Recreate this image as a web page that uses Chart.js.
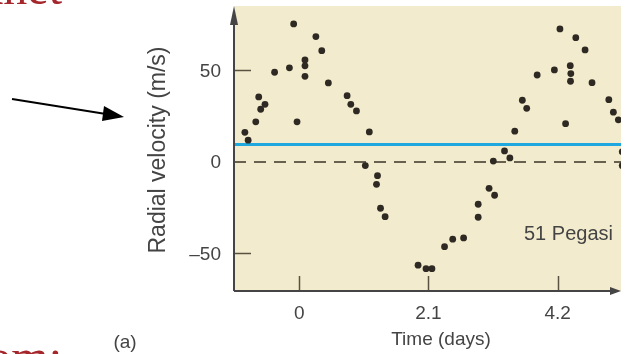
<!DOCTYPE html>
<html lang="en">
<head>
  <meta charset="UTF-8" />
  <title>51 Pegasi radial velocity</title>
  <script src="https://cdn.jsdelivr.net/npm/chart.js"></script>
  <style>
    body { margin: 0; background: #fff; }
    canvas { display: block; }
  </style>
</head>
<body>
  <canvas id="rvChart" width="625" height="354"></canvas>

  <script>
    // data
    const timeDays = [
      -0.885, -0.832, -0.708, -0.660, -0.628, -0.558, -0.402, -0.161, -0.092, -0.037,
      0.092, 0.092, 0.092, 0.269, 0.365, 0.472, 0.777, 0.837, 0.929, 1.138,
      1.073, 1.271, 1.255, 1.320, 1.395, 1.931, 2.060, 2.156, 2.361, 2.494,
      2.671, 2.908, 2.908, 3.085, 3.175, 3.154, 3.336, 3.423, 3.503, 3.626,
      3.697, 3.867, 4.147, 4.237, 4.329, 4.405, 4.414, 4.409, 4.495, 4.646,
      4.759, 5.032, 5.106, 5.187, 5.25, 5.25
    ];
    const velocity = [
      16.2, 11.9, 21.9, 35.5, 28.8, 31.5, 49.0, 51.4, 75.4, 21.9,
      55.7, 52.5, 46.8, 68.5, 60.8, 43.2, 36.2, 31.5, 27.9, 16.4,
      -2.0, -7.5, -12.2, -25.3, -29.9, -56.4, -58.3, -58.3, -46.3, -42.2,
      -41.5, -23.1, -30.2, -14.4, -18.2, 0.5, 6.0, 2.2, 16.8, 33.7,
      29.3, 47.5, 50.3, 72.7, 20.9, 52.6, 48.3, 44.1, 67.9, 61.2,
      43.3, 34.0, 27.2, 23.0, 5.6, -2.0
    ];
    const meanVelocity = 9.5;
    const xTicks = [0, 2.1, 4.2];
    const yTicks = [50, 0, -50];

    const xMin = -1.062, xMax = 5.23;
    const yMin = -70.5, yMax = 85.2;

    const FONT = '"Liberation Sans", Arial, sans-serif';

    const decorations = {
      id: 'decorations',
      beforeDraw(chart) {
        const { ctx, chartArea: a } = chart;
        ctx.save();
        ctx.fillStyle = '#f2ebcd';
        ctx.fillRect(a.left, a.top, a.right - a.left, a.bottom - a.top);
        ctx.restore();
      },
      afterDraw(chart) {
        const { ctx, chartArea: a } = chart;
        const xs = chart.scales.x, ys = chart.scales.y;
        ctx.save();

        // tick marks
        ctx.strokeStyle = '#5a5142';
        ctx.lineWidth = 1.5;
        yTicks.forEach(v => {
          if (v === 0) return;
          const y = Math.round(ys.getPixelForValue(v)) + 0.5;
          ctx.beginPath();
          ctx.moveTo(a.left, y);
          ctx.lineTo(a.left + 17, y);
          ctx.stroke();
        });
        xTicks.forEach(v => {
          const x = Math.round(xs.getPixelForValue(v)) + 0.5;
          ctx.beginPath();
          ctx.moveTo(x, a.bottom);
          ctx.lineTo(x, a.bottom - 15);
          ctx.stroke();
        });

        // axes with arrow heads
        ctx.strokeStyle = '#454545';
        ctx.fillStyle = '#454545';
        ctx.lineWidth = 2;
        ctx.beginPath();
        ctx.moveTo(a.left, a.bottom);
        ctx.lineTo(a.left, a.top + 15);
        ctx.moveTo(a.left, a.bottom);
        ctx.lineTo(a.right - 8, a.bottom);
        ctx.stroke();
        ctx.beginPath();
        ctx.moveTo(a.left, a.top);
        ctx.lineTo(a.left - 4, a.top + 19);
        ctx.lineTo(a.left + 4, a.top + 19);
        ctx.closePath();
        ctx.fill();
        ctx.beginPath();
        ctx.moveTo(a.right, a.bottom);
        ctx.lineTo(a.right - 11, a.bottom - 4);
        ctx.lineTo(a.right - 11, a.bottom + 4);
        ctx.closePath();
        ctx.fill();

        // tick labels
        ctx.fillStyle = '#444';
        ctx.font = '19px ' + FONT;
        ctx.textBaseline = 'middle';
        ctx.textAlign = 'right';
        yTicks.forEach(v => {
          const label = v < 0 ? '\u2013' + Math.abs(v) : String(v);
          ctx.fillText(label, 221, ys.getPixelForValue(v) + 1);
        });
        ctx.textAlign = 'center';
        xTicks.forEach(v => {
          ctx.fillText(String(v), xs.getPixelForValue(v), 314);
        });

        // axis titles and labels
        ctx.fillText('Time (days)', 441, 340);
        ctx.fillText('(a)', 125, 343);
        ctx.textAlign = 'left';
        ctx.font = '20px ' + FONT;
        ctx.fillText('51 Pegasi', 524, 234);
        ctx.save();
        ctx.translate(159, 150);
        ctx.rotate(-Math.PI / 2);
        ctx.textAlign = 'center';
        ctx.font = '23px ' + FONT;
        ctx.fillText('Radial velocity (m/s)', 0, 0);
        ctx.restore();

        // slide pointer arrow
        ctx.strokeStyle = '#000';
        ctx.fillStyle = '#000';
        ctx.lineWidth = 2;
        ctx.beginPath();
        ctx.moveTo(12, 99);
        ctx.lineTo(106, 114);
        ctx.stroke();
        ctx.beginPath();
        ctx.moveTo(124, 117);
        ctx.lineTo(104, 106);
        ctx.lineTo(102, 121);
        ctx.closePath();
        ctx.fill();

        // cropped slide text
        ctx.fillStyle = '#a5262b';
        ctx.font = '48px "Liberation Serif", serif';
        ctx.textAlign = 'right';
        ctx.textBaseline = 'alphabetic';
        ctx.fillText('Planet', 62, 4);
        ctx.fillText('from:', 62, 373);

        ctx.restore();
      }
    };

    new Chart(document.getElementById('rvChart'), {
      type: 'scatter',
      data: {
        datasets: [
          {
            label: '51 Pegasi',
            data: timeDays.map((t, i) => ({ x: t, y: velocity[i] })),
            backgroundColor: '#2e2a23',
            borderWidth: 0,
            pointRadius: 3.4,
            order: 0
          },
          {
            type: 'line',
            label: 'mean',
            data: [{ x: xMin, y: meanVelocity }, { x: xMax, y: meanVelocity }],
            borderColor: '#1fa8e0',
            borderWidth: 3,
            pointRadius: 0,
            order: 1
          },
          {
            type: 'line',
            label: 'zero',
            data: [{ x: xMin, y: 0 }, { x: xMax, y: 0 }],
            borderColor: '#3b3427',
            borderWidth: 1.5,
            borderDash: [12, 8],
            pointRadius: 0,
            order: 2
          }
        ]
      },
      options: {
        responsive: false,
        animation: false,
        devicePixelRatio: 1,
        layout: { padding: { left: 234, right: 0, top: 6, bottom: 63 } },
        plugins: { legend: { display: false }, tooltip: { enabled: false } },
        scales: {
          x: { type: 'linear', min: xMin, max: xMax, display: false },
          y: { type: 'linear', min: yMin, max: yMax, display: false }
        }
      },
      plugins: [decorations]
    });
  </script>
</body>
</html>
